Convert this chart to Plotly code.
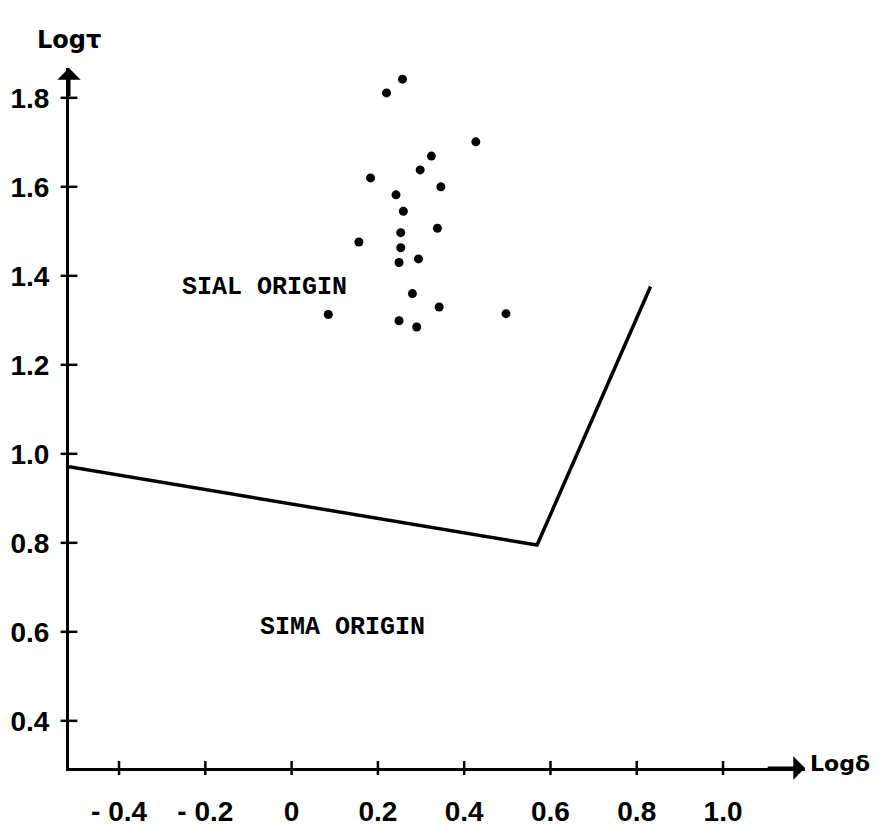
import plotly.graph_objects as go

# Data
pts_x = [0.257, 0.220, 0.427, 0.324, 0.298, 0.183, 0.346, 0.242, 0.259, 0.338,
         0.253, 0.156, 0.253, 0.294, 0.249, 0.280, 0.342, 0.085, 0.497, 0.249, 0.290]
pts_y = [1.842, 1.811, 1.701, 1.669, 1.638, 1.620, 1.600, 1.582, 1.545, 1.507,
         1.497, 1.476, 1.463, 1.438, 1.430, 1.360, 1.330, 1.313, 1.315, 1.299, 1.285]

boundary_x = [-0.516, 0.569, 0.832]
boundary_y = [0.971, 0.795, 1.376]

x_ticks = [-0.4, -0.2, 0, 0.2, 0.4, 0.6, 0.8, 1.0]
x_tick_text = ["- 0.4", "- 0.2", "0", "0.2", "0.4", "0.6", "0.8", "1.0"]
y_ticks = [0.4, 0.6, 0.8, 1.0, 1.2, 1.4, 1.6, 1.8]
y_tick_text = ["0.4", "0.6", "0.8", "1.0", "1.2", "1.4", "1.6", "1.8"]

x_range = [-0.516, 1.19]
y_range = [0.294, 1.867]

tick_font = dict(family="Liberation Sans, Arial, sans-serif",
                 size=28, color="black", weight="bold")
mono_font = dict(family="Liberation Mono, DejaVu Sans Mono, monospace", size=25, color="black")

fig = go.Figure()

fig.add_trace(go.Scatter(x=boundary_x, y=boundary_y, mode="lines",
                         line=dict(color="black", width=3.5), hoverinfo="skip"))

fig.add_trace(go.Scatter(x=pts_x, y=pts_y, mode="markers",
                         marker=dict(color="black", size=9), hoverinfo="skip"))

# tick marks crossing the axes
fig.add_trace(go.Scatter(x=x_ticks, y=[y_range[0]] * len(x_ticks), mode="markers",
                         marker=dict(symbol="line-ns", size=10, line=dict(color="black", width=2.5)),
                         cliponaxis=False, hoverinfo="skip"))
fig.add_trace(go.Scatter(x=[x_range[0]] * len(y_ticks), y=y_ticks, mode="markers",
                         marker=dict(symbol="line-ew", size=12, line=dict(color="black", width=2.5)),
                         cliponaxis=False, hoverinfo="skip"))

fig.update_layout(
    width=875, height=819,
    margin=dict(l=61, r=78, t=60, b=59, autoexpand=False),
    paper_bgcolor="white", plot_bgcolor="white",
    showlegend=False,
    xaxis=dict(range=x_range, showgrid=False, zeroline=False, showline=True,
               linecolor="black", linewidth=3, ticks="", automargin=False,
               tickvals=x_ticks, ticktext=x_tick_text, tickfont=tick_font,
               ticklabelstandoff=16),
    yaxis=dict(range=y_range, showgrid=False, zeroline=False, showline=True,
               linecolor="black", linewidth=3, ticks="", automargin=False,
               tickvals=y_ticks, ticktext=y_tick_text, tickfont=tick_font,
               ticklabelstandoff=11),
)

# arrowheads on axes
fig.add_annotation(x=x_range[0], y=y_range[1], ax=x_range[0], ay=1.80,
                   xref="x", yref="y", axref="x", ayref="y",
                   showarrow=True, arrowhead=1, arrowsize=1.3, arrowwidth=3,
                   arrowcolor="black", text="")
fig.add_annotation(x=x_range[1], y=y_range[0], ax=1.10, ay=y_range[0],
                   xref="x", yref="y", axref="x", ayref="y",
                   showarrow=True, arrowhead=1, arrowsize=1.3, arrowwidth=3,
                   arrowcolor="black", text="")

label_font = dict(family="DejaVu Sans, sans-serif", size=24, color="black")
fig.add_annotation(x=0.0, y=1.0, xref="paper", yref="paper", yshift=28,
                   xanchor="center", yanchor="middle",
                   text="<b>Logτ</b>", showarrow=False, font=label_font)
fig.add_annotation(x=1.0, y=0.0, xref="paper", yref="paper", xshift=3, yshift=5,
                   xanchor="left", yanchor="middle",
                   text="<b>Logδ</b>", showarrow=False,
                   font=dict(family="DejaVu Sans, sans-serif", size=22, color="black"))

fig.add_annotation(x=-0.064, y=1.373, xref="x", yref="y", text="<b>SIAL ORIGIN</b>",
                   showarrow=False, font=mono_font)
fig.add_annotation(x=0.117, y=0.609, xref="x", yref="y", text="<b>SIMA ORIGIN</b>",
                   showarrow=False, font=mono_font)

fig.write_html("out.html")
